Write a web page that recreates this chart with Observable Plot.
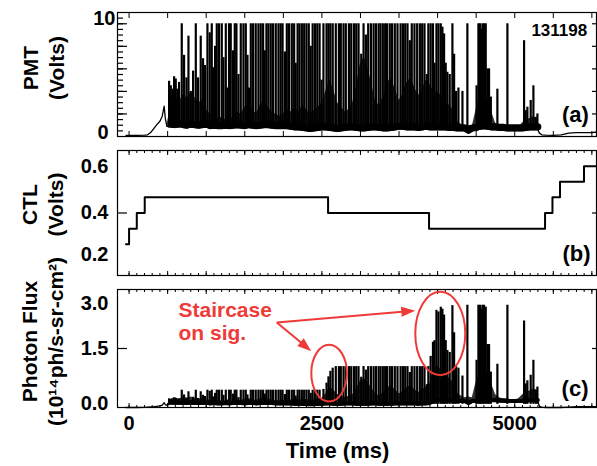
<!DOCTYPE html>
<html><head><meta charset="utf-8">
<script src="https://cdn.jsdelivr.net/npm/d3@7"></script>
<script src="https://cdn.jsdelivr.net/npm/@observablehq/plot@0.6"></script>
<style>
html,body{margin:0;padding:0;background:#fff;}
#chart{position:relative;width:597px;height:466px;overflow:hidden;background:#fff;}
#chart svg{position:absolute;left:0;}
</style></head><body><div id="chart"></div>
<script>
// ---------------- data ----------------
const shotNumber = "131198";
// sample times (ms) of the slowly varying trace and the dense low-level burst band
const gridT = [-40, 100, 200, 240, 280, 320, 360, 400, 430, 455, 470, 490,
  550, 600, 650, 700, 750, 800, 850, 900, 950, 1000,
  1050, 1100, 1150, 1200, 1250, 1300, 1350, 1400, 1450, 1500,
  1550, 1600, 1650, 1700, 1750, 1800, 1850, 1900, 1950, 2000,
  2050, 2100, 2150, 2200, 2250, 2300, 2350, 2400, 2450, 2500,
  2550, 2600, 2650, 2700, 2750, 2800, 2850, 2900, 2950, 3000,
  3050, 3100, 3150, 3200, 3250, 3300, 3350, 3400, 3450, 3500,
  3550, 3600, 3650, 3700, 3750, 3800, 3850, 3900, 3950, 4000,
  4050, 4100, 4150, 4200, 4250, 4300, 4350, 4400, 4450, 4500,
  4550, 4600, 4650, 4700, 4750, 4800, 4850, 4900, 4950, 5000,
  5050, 5100, 5150, 5200, 5250, 5300,
  5320, 5350, 5400, 5500, 5600, 5700, 5800, 5900, 6000, 6060];
// PMT (Volts): baseline of the trace and top of the dense burst band
const pmtLo = [0.1, 0.1, 0.12, 0.15, 0.35, 0.7, 1.05, 1.35, 1.8, 2.7, 1.6, 0.9,
  0.85, 0.8, 0.9, 0.8, 0.75, 0.85, 0.8, 0.75, 0.8, 0.85,
  0.7, 0.75, 0.7, 0.7, 0.75, 0.7, 0.75, 0.8, 0.75, 0.7,
  0.8, 0.75, 0.7, 0.75, 0.8, 0.8, 0.75, 0.7, 0.7, 0.7,
  0.7, 0.65, 0.6, 0.6, 0.55, 0.5, 0.45, 0.5, 0.55, 0.6,
  0.6, 0.55, 0.5, 0.45, 0.5, 0.55, 0.6, 0.6, 0.55, 0.5,
  0.5, 0.55, 0.6, 0.6, 0.55, 0.5, 0.5, 0.55, 0.6, 0.65,
  0.65, 0.6, 0.6, 0.6, 0.55, 0.6, 0.65, 0.6, 0.6, 0.6,
  0.6, 0.6, 0.55, 0.55, 0.5, 0.5, 0.5, 0.3, 0.5, 0.55,
  0.65, 0.7, 0.65, 0.6, 0.6, 0.55, 0.55, 0.5, 0.5, 0.5,
  0.5, 0.5, 0.55, 0.6, 0.6, 0.6,
  0.3, 0.15, 0.12, 0.1, 0.15, 0.3, 0.35, 0.35, 0.35, 0.4];
const pmtHi = [0.1, 0.1, 0.12, 0.15, 0.35, 0.7, 1.05, 1.35, 1.8, 2.7, 1.6, 0.9,
  3.2, 3.6, 3.0, 3.8, 3.4, 4.0, 3.5, 3.0, 3.2, 2.4,
  2.0, 1.8, 1.6, 1.7, 1.5, 1.9, 1.6, 2.2, 2.0, 2.6,
  3.0, 2.4, 2.0, 2.8, 3.2, 2.6, 2.2, 2.0, 1.8, 2.0,
  2.4, 2.2, 2.6, 2.2, 2.8, 2.4, 2.0, 2.3, 2.6, 3.0,
  4.0, 5.0, 4.2, 3.0, 2.6, 2.2, 2.4, 3.0, 4.5, 6.5,
  7.0, 6.0, 4.5, 3.0, 2.8, 3.6, 4.8, 5.2, 4.2, 3.2,
  3.8, 4.8, 5.2, 4.4, 3.6, 4.2, 5.0, 4.6, 4.0, 4.0,
  3.6, 3.0, 2.8, 2.4, 1.4, 1.1, 0.9, 1.0, 0.9, 2.4,
  3.6, 3.8, 3.2, 2.2, 1.2, 0.9, 0.8, 0.8, 0.75, 0.7,
  0.8, 1.2, 1.5, 1.6, 1.8, 1.4,
  0.3, 0.15, 0.12, 0.1, 0.15, 0.3, 0.35, 0.35, 0.35, 0.4];
// Photon flux (10^14 ph/s-sr-cm^2): baseline and top of dense burst band
const fluxLo = [0.0, 0.0, 0.005, 0.01, 0.015, 0.02, 0.03, 0.04, 0.06, 0.12, 0.07, 0.06,
  0.09, 0.08, 0.09, 0.08, 0.08, 0.09, 0.08, 0.08, 0.08, 0.09,
  0.07, 0.08, 0.07, 0.07, 0.08, 0.07, 0.08, 0.08, 0.08, 0.07,
  0.08, 0.08, 0.07, 0.08, 0.08, 0.08, 0.08, 0.07, 0.07, 0.07,
  0.07, 0.07, 0.06, 0.06, 0.06, 0.05, 0.05, 0.05, 0.06, 0.06,
  0.07, 0.07, 0.06, 0.06, 0.06, 0.07, 0.07, 0.07, 0.06, 0.06,
  0.06, 0.06, 0.07, 0.07, 0.06, 0.06, 0.06, 0.06, 0.07, 0.07,
  0.07, 0.07, 0.07, 0.07, 0.06, 0.07, 0.07, 0.08, 0.14, 0.15,
  0.15, 0.15, 0.14, 0.14, 0.13, 0.13, 0.13, 0.08, 0.13, 0.14,
  0.16, 0.17, 0.16, 0.15, 0.15, 0.14, 0.14, 0.13, 0.13, 0.13,
  0.13, 0.13, 0.14, 0.15, 0.15, 0.15,
  0.03, 0.01, 0.0, 0.0, 0.0, 0.01, 0.02, 0.02, 0.02, 0.02];
const fluxHi = [0.0, 0.0, 0.005, 0.01, 0.015, 0.02, 0.03, 0.04, 0.06, 0.12, 0.07, 0.06,
  0.22, 0.25, 0.21, 0.26, 0.24, 0.27, 0.24, 0.21, 0.22, 0.19,
  0.18, 0.17, 0.16, 0.17, 0.16, 0.18, 0.16, 0.19, 0.18, 0.21,
  0.23, 0.2, 0.18, 0.22, 0.24, 0.21, 0.19, 0.18, 0.17, 0.18,
  0.2, 0.19, 0.21, 0.19, 0.22, 0.2, 0.18, 0.19, 0.21, 0.23,
  0.35, 0.5, 0.45, 0.33, 0.3, 0.26, 0.28, 0.33, 0.48, 0.68,
  0.73, 0.63, 0.48, 0.33, 0.3, 0.38, 0.5, 0.55, 0.45, 0.35,
  0.4, 0.5, 0.55, 0.46, 0.38, 0.44, 0.52, 0.6, 1.0, 1.05,
  0.95, 0.8, 0.75, 0.65, 0.38, 0.3, 0.25, 0.27, 0.25, 0.65,
  0.95, 1.0, 0.85, 0.6, 0.33, 0.25, 0.22, 0.22, 0.2, 0.19,
  0.22, 0.32, 0.4, 0.42, 0.48, 0.38,
  0.03, 0.01, 0.0, 0.0, 0.0, 0.01, 0.02, 0.02, 0.02, 0.02];
// individual spikes: time (ms), PMT peak (V), photon-flux peak
const spikeT = [519, 541, 562, 584, 605, 627, 648, 683, 713, 744, 770, 800, 830, 865, 894, 929, 959, 985,
  1016, 1046, 1072, 1089, 1115, 1137, 1167, 1202, 1224, 1254, 1276, 1296, 1318, 1348, 1370, 1392, 1418, 1448,
  1483, 1513, 1535, 1556, 1578, 1608, 1642, 1677, 1707, 1738, 1759, 1781, 1807, 1837, 1867, 1902, 1937, 1965,
  1990, 2020, 2045, 2075, 2110, 2140, 2160, 2185, 2210, 2240, 2270, 2300, 2330, 2355, 2380, 2410, 2440, 2470,
  2495, 2520, 2560, 2585, 2610, 2640, 2680, 2720, 2745, 2780, 2810, 2850, 2880, 2915, 2945, 2975, 3010, 3040,
  3070, 3100, 3135, 3170, 3200, 3235, 3260, 3290, 3320, 3345, 3380, 3410, 3445, 3480, 3520, 3550, 3580, 3610,
  3640, 3665, 3700, 3735, 3770, 3800, 3830, 3860, 3880, 3910, 3940, 3960, 3985, 4011, 4041, 4062, 4084, 4105,
  4127, 4157, 4192, 4214, 4240, 4270, 4322, 4386, 4505, 4529, 4550, 4565, 4581, 4602, 4624, 4646, 4667, 4690,
  4775, 4905, 5121, 5142, 5164, 5207, 5242, 5272, 5294];
const pmtPeak = [4.9, 4.5, 4.2, 5.3, 5.1, 4.2, 4.8, 10, 7.2, 5.2, 8.9, 4.0, 5.8, 10, 5.2, 8.9, 6.9, 6.3,
  10, 9.2, 10, 6.1, 8.0, 10, 10, 10, 7.0, 10, 4.3, 10, 10, 7.6, 10, 10, 5.5, 10,
  10, 10, 7.2, 4.3, 10, 10, 10, 10, 10, 10, 7.6, 10, 10, 10, 10, 10, 10, 10,
  10, 7.5, 10, 10, 10, 10, 6.5, 10, 10, 10, 10, 10, 10, 8.0, 10, 10, 10, 10,
  5.0, 10, 10, 10, 10, 10, 10, 10, 10, 10, 10, 10, 10, 10, 10, 10, 7.3, 10,
  9.0, 10, 10, 10, 10, 10, 10, 10, 10, 10, 10, 10, 10, 10, 10, 10, 10, 10,
  8.5, 10, 10, 10, 10, 10, 10, 5.5, 10, 10, 10, 6.5, 10, 10, 10, 9.7, 9.1, 6.5,
  5.7, 5.5, 10, 7.3, 4.0, 4.3, 4.0, 10, 4.5, 10, 10, 9.5, 10, 10, 10, 6.0, 6.0, 3.5,
  4.2, 10, 8.5, 2.3, 2.6, 3.2, 4.5, 1.7, 2.0];
const fluxPeak = [0.22, 0.2, 0.19, 0.24, 0.23, 0.19, 0.22, 0.44, 0.32, 0.23, 0.4, 0.18, 0.26, 0.44, 0.23, 0.4, 0.31, 0.28,
  0.44, 0.41, 0.44, 0.27, 0.36, 0.44, 0.44, 0.44, 0.31, 0.44, 0.19, 0.44, 0.44, 0.34, 0.44, 0.44, 0.25, 0.44,
  0.44, 0.44, 0.32, 0.19, 0.44, 0.44, 0.44, 0.44, 0.44, 0.44, 0.34, 0.44, 0.44, 0.44, 0.44, 0.44, 0.44, 0.44,
  0.44, 0.33, 0.44, 0.44, 0.44, 0.44, 0.29, 0.44, 0.44, 0.44, 0.44, 0.44, 0.44, 0.36, 0.44, 0.44, 0.44, 0.44,
  0.22, 0.46, 0.62, 0.78, 0.92, 1.0, 1.04, 1.04, 1.04, 1.04, 1.04, 1.04, 1.04, 1.04, 1.04, 1.04, 0.77, 1.04,
  0.95, 1.04, 1.04, 1.04, 1.04, 1.04, 1.04, 1.04, 1.04, 1.04, 1.04, 1.04, 1.04, 1.04, 1.04, 1.04, 1.04, 1.04,
  0.89, 1.04, 1.04, 1.04, 1.04, 1.04, 1.04, 0.58, 1.04, 1.3, 1.66, 1.7, 2.47, 2.43, 2.55, 2.5, 2.35, 1.7,
  1.45, 1.4, 2.59, 1.9, 1.05, 1.0, 0.8, 2.6, 1.2, 2.6, 2.6, 2.5, 2.6, 2.6, 2.55, 1.6, 1.6, 0.9,
  1.1, 2.6, 2.2, 0.6, 0.68, 0.82, 1.2, 0.45, 0.52];
// CTL (Volts) staircase: change times and levels
const ctlT = [-40, 0, 100, 203, 2580, 3889, 5393, 5489, 5587, 5898, 6060];
const ctlV = [0.267, 0.333, 0.4, 0.467, 0.4, 0.333, 0.4, 0.467, 0.533, 0.6, 0.6];
// annotation ("Staircase on sig."): ovals and arrows, in data units
const ovalT = [2600, 4041], ovalV = [0.86, 1.87], ovalHalfT = [231, 324], ovalHalfV = [0.72, 1.06];
const arrowFromT = [1921, 1921], arrowFromV = [2.15, 2.15];
const arrowToT = [3717, 2369], arrowToV = [2.45, 1.42];
// axis ticks and labels
const timeMajor = [0, 500, 1000, 1500, 2000, 2500, 3000, 3500, 4000, 4500, 5000, 5500, 6000];
const timeMinor = [0, 100, 200, 300, 400, 500, 600, 700, 800, 900, 1000, 1100, 1200, 1300, 1400, 1500, 1600, 1700, 1800, 1900,
  2000, 2100, 2200, 2300, 2400, 2500, 2600, 2700, 2800, 2900, 3000, 3100, 3200, 3300, 3400, 3500, 3600, 3700, 3800, 3900,
  4000, 4100, 4200, 4300, 4400, 4500, 4600, 4700, 4800, 4900, 5000, 5100, 5200, 5300, 5400, 5500, 5600, 5700, 5800, 5900, 6000];
const timeLabels = [0, 2500, 5000];
const pmtMinor = [0.5, 1, 1.5, 2, 2.5, 3, 3.5, 4, 4.5, 5, 5.5, 6, 6.5, 7, 7.5, 8, 8.5, 9, 9.5, 10, 10.5];
const pmtMajor = [2, 4, 6, 8, 10];
const ctlTicks = [0.4];
const fluxTicks = [1.5];

// ---------------- styling ----------------
const RED = "#ee3b38";
const FONT = "'Liberation Sans', Arial, Helvetica, sans-serif";
const NARROW_NAME = "Liberation Sans Narrow";
function hasFont(name) {
  const c = document.createElement("canvas").getContext("2d");
  c.font = "bold 23px monospace"; const w0 = c.measureText("PMT (Volts) mmmiii").width;
  c.font = `bold 23px '${name}', monospace`; const w1 = c.measureText("PMT (Volts) mmmiii").width;
  return Math.abs(w0 - w1) > 0.5;
}
const narrowOK = hasFont(NARROW_NAME);
const TITLE_FONT = narrowOK ? `'${NARROW_NAME}', ${FONT}` : FONT;
const TITLE_SIZE = narrowOK ? 23 : 21;
const active = t => t >= 500 && t <= 5300;

function base(height, marginTop, marginBottom, yDomain) {
  return {
    width: 597, height, marginLeft: 117, marginRight: 1, marginTop, marginBottom,
    x: {domain: [-150, 6060]}, y: {domain: yDomain},
    style: {background: "transparent", overflow: "visible", fontFamily: FONT, fontWeight: "bold", fontSize: "20px", color: "#000"}
  };
}
const blank = () => "";
function ticksY(values, anchor, size) {
  return Plot.axisY({anchor, ticks: values, tickSize: size, dx: anchor === "left" ? size : -size, tickFormat: blank, label: null, strokeWidth: 1.2});
}
function ticksX(values, anchor, size) {
  return Plot.axisX({anchor, ticks: values, tickSize: size, dy: anchor === "top" ? size : -size, tickFormat: blank, label: null, strokeWidth: 1});
}
function labelsY(values, pad, dy, fmt) {
  return Plot.axisY({anchor: "left", ticks: values, tickSize: 0, tickPadding: pad, dy, tickFormat: fmt, label: null, fontSize: 20, fontWeight: "bold"});
}
function yTitle(text, dx, dy) {
  return Plot.text([text], {text: d => d, frameAnchor: "left", textAnchor: "middle", lineAnchor: "middle", rotate: -90, dx, dy,
    fontFamily: TITLE_FONT, fontSize: TITLE_SIZE, fontWeight: "bold", lineHeight: 1.25, fill: "#000"});
}
function panelTag(text, dx, dy) {
  return Plot.text([text], {text: d => d, frameAnchor: "bottom-right", textAnchor: "end", lineAnchor: "middle", dx, dy, fontSize: 22, fontWeight: "bold", fill: "#000"});
}
function signal(lo, hi, peak, spikeBase, band) {
  return [
    Plot.areaY(gridT, {x: gridT, y1: lo, y2: hi, fill: "#000", fillOpacity: 0.82}),
    Plot.line(gridT, {x: gridT, y: lo, stroke: "#000", strokeWidth: 1.3}),
    Plot.line(gridT, {x: gridT, y: lo, filter: active, stroke: "#000", strokeWidth: band, dy: -band / 2 + 0.5}),
    Plot.ruleX(spikeT, {x: spikeT, y1: spikeBase, y2: peak, stroke: "#000", strokeWidth: 2.2})
  ];
}

// annotation renderer (uses the plot's own scales)
function staircaseNotes(index, scales) {
  const {x, y} = scales;
  const g = d3.create("svg:g").attr("fill", "none").attr("stroke", RED).attr("stroke-width", 2);
  for (let i = 0; i < ovalT.length; i++) {
    const cx = x(ovalT[i]), cy = y(ovalV[i]);
    g.append("ellipse").attr("cx", cx).attr("cy", cy)
      .attr("rx", Math.abs(x(ovalT[i] + ovalHalfT[i]) - cx))
      .attr("ry", Math.abs(cy - y(ovalV[i] + ovalHalfV[i])));
  }
  for (let i = 0; i < arrowToT.length; i++) {
    const x1 = x(arrowFromT[i]), y1 = y(arrowFromV[i]), x2 = x(arrowToT[i]), y2 = y(arrowToV[i]);
    const ddx = x2 - x1, ddy = y2 - y1, len = Math.hypot(ddx, ddy), ux = ddx / len, uy = ddy / len;
    const L = 14, W = 5, bx = x2 - ux * L, by = y2 - uy * L;
    g.append("line").attr("x1", x1).attr("y1", y1).attr("x2", bx + ux).attr("y2", by + uy);
    g.append("path").attr("d", `M${x2},${y2}L${bx - uy * W},${by + ux * W}L${bx + uy * W},${by - ux * W}Z`)
      .attr("fill", RED).attr("stroke", "none");
  }
  return g.node();
}

// ---------------- panel (a) PMT ----------------
const panelA = Plot.plot({
  ...base(143, 12, 7, [0, 11]),
  marks: [
    ...signal(pmtLo, pmtHi, pmtPeak, 0.75, 7),
    Plot.frame({stroke: "#000", strokeWidth: 1.2}),
    ticksY(pmtMinor, "left", 6), ticksY(pmtMajor, "left", 10), ticksY(pmtMajor, "right", 5),
    ticksX(timeMajor, "top", 5), ticksX(timeMajor, "bottom", 5),
    labelsY([10], 2, -5, d3.format("d")), labelsY([0], 9, -4, d3.format("d")),
    yTitle("PMT\n(Volts)", -75, -6.5),
    Plot.text([shotNumber], {text: d => d, frameAnchor: "top-right", textAnchor: "end", lineAnchor: "middle", dx: -9.3, dy: 17.7, fontSize: 17, fontWeight: "bold", fill: "#000"}),
    panelTag("(a)", -7.7, -22)
  ]
});

// ---------------- panel (b) CTL ----------------
const panelB = Plot.plot({
  ...base(145, 7, 13, [0.13333, 0.66667]),
  marks: [
    Plot.line(ctlT, {x: ctlT, y: ctlV, curve: "step-after", stroke: "#000", strokeWidth: 2}),
    Plot.frame({stroke: "#000", strokeWidth: 1.2}),
    ticksY(ctlTicks, "left", 10), ticksY(ctlTicks, "right", 5),
    ticksX(timeMinor, "top", 2), ticksX(timeMajor, "top", 4),
    ticksX(timeMinor, "bottom", 2), ticksX(timeMajor, "bottom", 4),
    labelsY([0.6, 0.4], 9, 0, d3.format(".1f")), labelsY([0.2], 9, -5.5, d3.format(".1f")),
    yTitle("CTL\n(Volts)", -76, -8.5),
    panelTag("(b)", -6, -22)
  ]
});

// ---------------- panel (c) photon flux ----------------
const panelC = Plot.plot({
  ...base(178, 1, 59, [0, 3]),
  marks: [
    ...signal(fluxLo, fluxHi, fluxPeak, 0.08, 4),
    Plot.frame({stroke: "#000", strokeWidth: 1.2}),
    ticksY(fluxTicks, "left", 10), ticksY(fluxTicks, "right", 5),
    ticksX(timeMinor, "top", 2), ticksX(timeMajor, "top", 4),
    ticksX(timeMinor, "bottom", 2), ticksX(timeMajor, "bottom", 4),
    labelsY([3.0], 9, 13.7, d3.format(".1f")), labelsY([1.5], 9, 0, d3.format(".1f")), labelsY([0.0], 9, -3.7, d3.format(".1f")),
    Plot.axisX({anchor: "bottom", ticks: timeLabels, tickSize: 0, tickPadding: 8, tickFormat: d3.format("d"), label: null, fontSize: 20, fontWeight: "bold"}),
    Plot.text(["Time (ms)"], {text: d => d, frameAnchor: "bottom", textAnchor: "middle", lineAnchor: "middle", dx: -19.5, dy: 43, fontSize: 22, fontWeight: "bold", fill: "#000"}),
    yTitle("Photon Flux\n(10\u00b9\u2074ph/s-sr-cm\u00b2)", -76, -7),
    panelTag("(c)", -8, -19),
    Plot.text(["Staircase\non sig."], {text: d => d, frameAnchor: "top-left", textAnchor: "start", lineAnchor: "top", dx: 61, dy: 11, fontSize: 21, fontWeight: "bold", lineHeight: 1.1, fill: RED}),
    staircaseNotes
  ]
});

const chart = document.getElementById("chart");
[[panelA, 0], [panelB, 143], [panelC, 288]].forEach(([svg, top]) => {
  svg.style.top = top + "px";
  chart.appendChild(svg);
});
</script></body></html>
